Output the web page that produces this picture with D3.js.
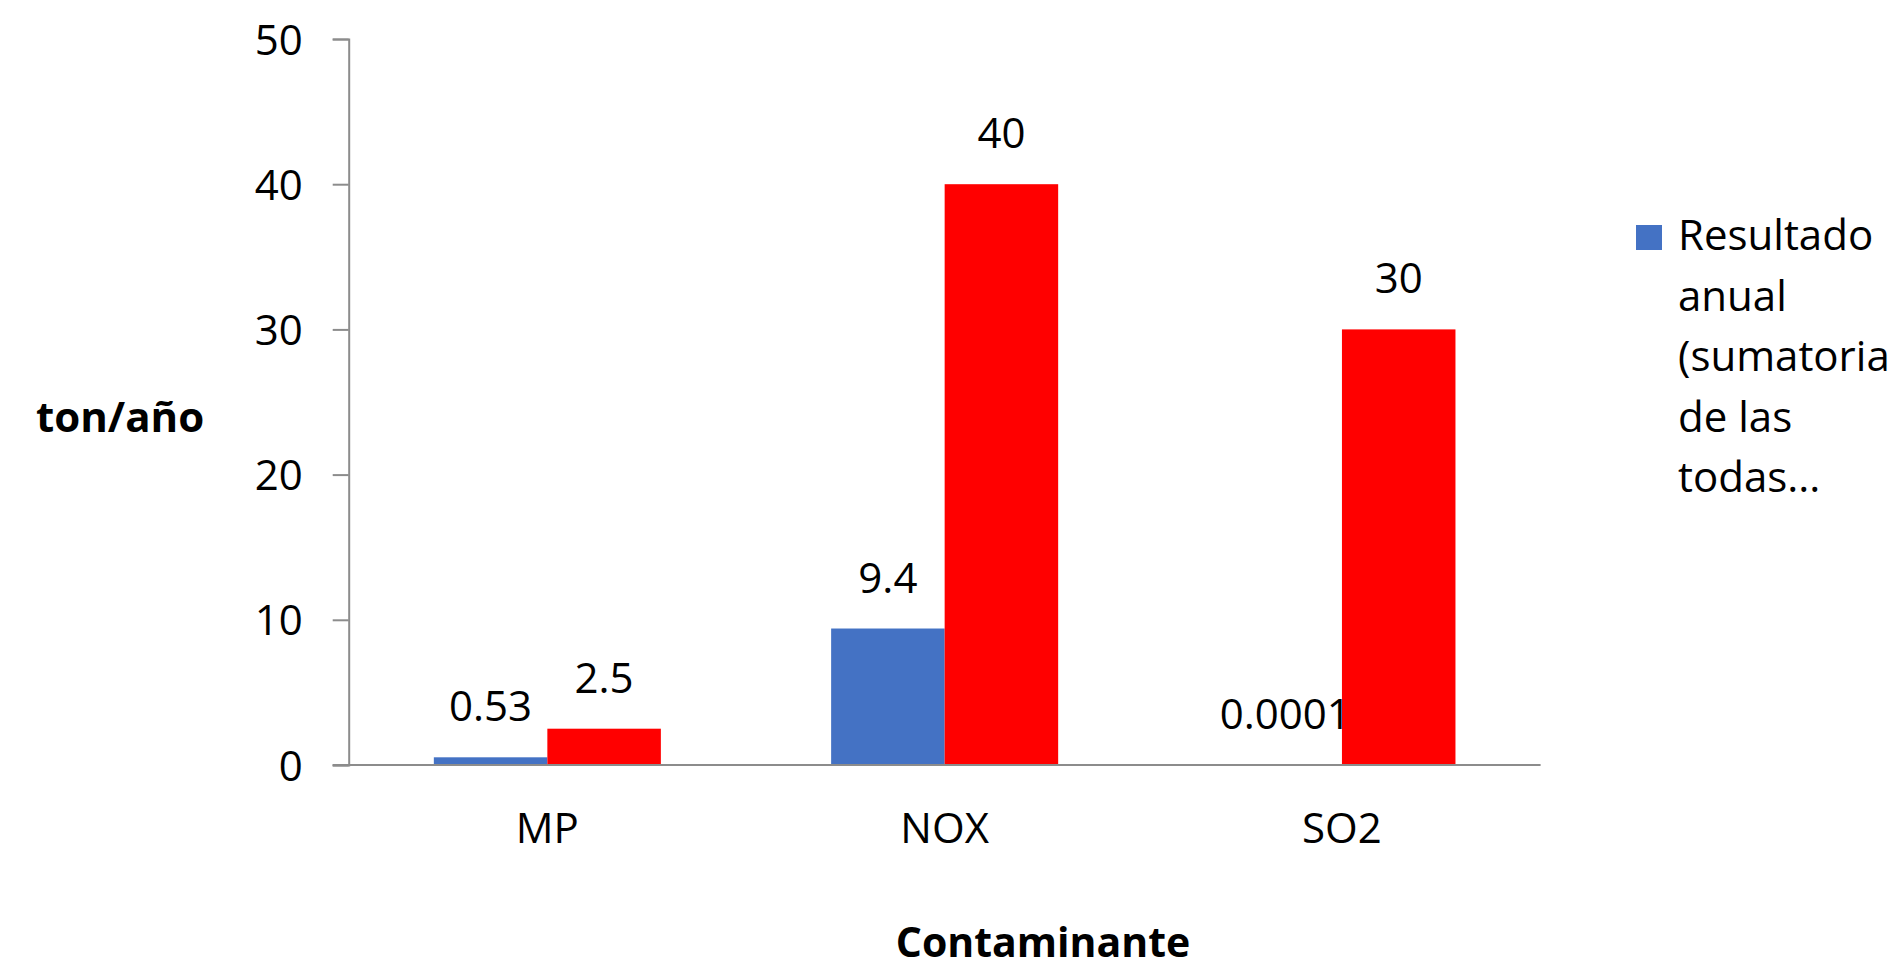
<!DOCTYPE html>
<html>
<head>
<meta charset="utf-8">
<script src="https://cdn.jsdelivr.net/npm/d3@7"></script>
<style>
  html, body { margin: 0; padding: 0; background: #fff; }
  svg { display: block; }
  text { font-family: "Open Sans", sans-serif; fill: #000; }
</style>
</head>
<body>
<svg id="chart" width="1900" height="968"></svg>
<script>
const categories = ["MP", "NOX", "SO2"];
const seriesNames = ["Resultado anual (sumatoria de las todas...)", "Norma"];
const resultadoValues = [0.53, 9.4, 0.0001];
const normaValues = [2.5, 40, 30];
const resultadoLabels = ["0.53", "9.4", "0.0001"];
const normaLabels = ["2.5", "40", "30"];
const yTicks = [0, 10, 20, 30, 40, 50];
const legendLines = ["Resultado", "anual", "(sumatoria", "de las", "todas..."];
const colors = ["#4472C4", "#FF0000"];

(function () {
const svg = d3.select("#chart");
const plotLeft = 348.7, plotRight = 1540.6, plotTop = 39, plotBottom = 765;
const axisColor = "#8c8c8c";

const y = d3.scaleLinear().domain([0, 50]).range([plotBottom, plotTop]);
const x0 = d3.scaleBand().domain(categories).range([plotLeft, plotRight]).padding(0);
const bw = x0.bandwidth();
const groupW = bw * 2 / 3.5;
const x1 = d3.scaleBand().domain(seriesNames).range([(bw - groupW) / 2, (bw + groupW) / 2]).padding(0);

const rows = categories.map((c, i) => ({
  cat: c,
  vals: [
    { s: seriesNames[0], v: resultadoValues[i], label: resultadoLabels[i], color: colors[0] },
    { s: seriesNames[1], v: normaValues[i], label: normaLabels[i], color: colors[1] }
  ]
}));

// bars
const g = svg.append("g");
const groups = g.selectAll("g.cat").data(rows).join("g")
  .attr("class", "cat")
  .attr("transform", d => `translate(${x0(d.cat)},0)`);
groups.selectAll("rect").data(d => d.vals).join("rect")
  .attr("x", d => x1(d.s))
  .attr("width", x1.bandwidth())
  .attr("y", d => y(d.v))
  .attr("height", d => y(0) - y(d.v))
  .attr("fill", d => d.color);
groups.selectAll("text.lbl").data(d => d.vals).join("text")
  .attr("class", "lbl")
  .attr("x", d => x1(d.s) + x1.bandwidth() / 2)
  .attr("y", d => y(d.v) - 36)
  .attr("text-anchor", "middle")
  .style("font-size", "42px")
  .text(d => d.label);

// y axis
const yAxis = d3.axisLeft(y).tickValues(yTicks).tickSize(16).tickPadding(30).tickFormat(d3.format("d"));
const ya = svg.append("g").attr("transform", `translate(${plotLeft},0)`).call(yAxis);
ya.select(".domain").attr("stroke", axisColor).attr("stroke-width", 2);
ya.selectAll(".tick line").attr("stroke", axisColor).attr("stroke-width", 2);
ya.selectAll(".tick text").style("font-size", "42px").attr("fill", "#000")
  .style("font-family", "'Open Sans', sans-serif").attr("dy", "0.36em");

// x axis
const xAxis = d3.axisBottom(x0).tickSize(0).tickPadding(48);
const xa = svg.append("g").attr("transform", `translate(0,${plotBottom})`).call(xAxis);
xa.select(".domain").remove();
xa.append("line").attr("x1", plotLeft - 16).attr("x2", plotRight).attr("y1", 0).attr("y2", 0)
  .attr("stroke", axisColor).attr("stroke-width", 2);
xa.selectAll(".tick text").style("font-size", "42px").attr("fill", "#000")
  .style("font-family", "'Open Sans', sans-serif").attr("dy", "0.71em");

// axis titles
svg.append("text").attr("x", 36).attr("y", 432)
  .style("font-size", "42px").style("font-weight", "bold").text("ton/año");
svg.append("text").attr("x", 1043).attr("y", 957).attr("text-anchor", "middle")
  .style("font-size", "41px").style("font-weight", "bold").text("Contaminante");

// legend
const lg = svg.append("g");
lg.append("rect").attr("x", 1636).attr("y", 225).attr("width", 26).attr("height", 25).attr("fill", colors[0]);
lg.selectAll("text").data(legendLines).join("text")
  .attr("x", 1678).attr("y", (d, i) => 250 + i * 60.5)
  .style("font-size", "42px").text(d => d);
})();
</script>
</body>
</html>
